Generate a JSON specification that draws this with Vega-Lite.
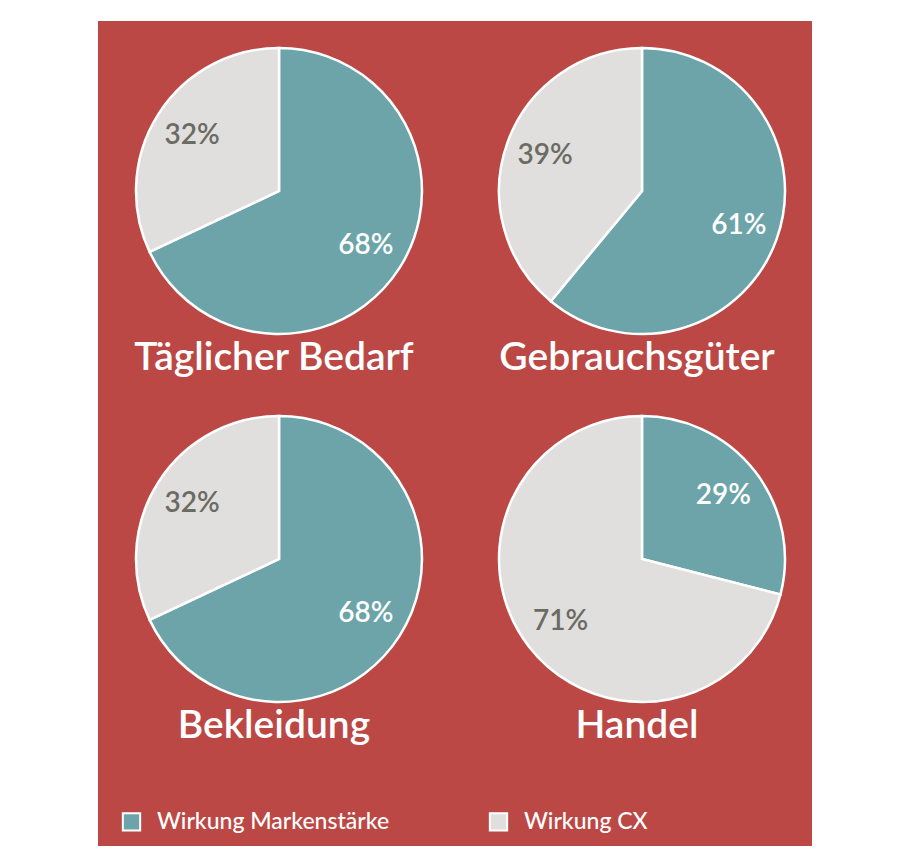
{
  "$schema": "https://vega.github.io/schema/vega-lite/v6.json",
  "width": 923,
  "height": 850,
  "autosize": {"type": "fit", "contains": "padding"},
  "padding": {"left": 98, "top": 21, "right": 111, "bottom": 4},
  "background": "white",
  "config": {
    "view": {"fill": "#BC4845", "stroke": null},
    "font": "Lato"
  },
  "data": {
    "values": [
      {"kategorie": "Täglicher Bedarf", "spalte": 0, "zeile": 0, "serie": "Wirkung Markenstärke", "reihenfolge": 1, "anteil": 0.68},
      {"kategorie": "Täglicher Bedarf", "spalte": 0, "zeile": 0, "serie": "Wirkung CX", "reihenfolge": 2, "anteil": 0.32},
      {"kategorie": "Gebrauchsgüter", "spalte": 1, "zeile": 0, "serie": "Wirkung Markenstärke", "reihenfolge": 1, "anteil": 0.61},
      {"kategorie": "Gebrauchsgüter", "spalte": 1, "zeile": 0, "serie": "Wirkung CX", "reihenfolge": 2, "anteil": 0.39},
      {"kategorie": "Bekleidung", "spalte": 0, "zeile": 1, "serie": "Wirkung Markenstärke", "reihenfolge": 1, "anteil": 0.68},
      {"kategorie": "Bekleidung", "spalte": 0, "zeile": 1, "serie": "Wirkung CX", "reihenfolge": 2, "anteil": 0.32},
      {"kategorie": "Handel", "spalte": 1, "zeile": 1, "serie": "Wirkung Markenstärke", "reihenfolge": 1, "anteil": 0.29},
      {"kategorie": "Handel", "spalte": 1, "zeile": 1, "serie": "Wirkung CX", "reihenfolge": 2, "anteil": 0.71}
    ]
  },
  "transform": [
    {"stack": "anteil", "groupby": ["kategorie"], "sort": [{"field": "reihenfolge"}], "as": ["a0", "a1"]},
    {"calculate": "(datum.a0 + datum.a1) / 2", "as": "mitte"}
  ],
  "encoding": {
    "x": {"field": "spalte", "type": "quantitative", "scale": {"domain": [0, 1], "range": [181, 544]}, "axis": null},
    "y": {"field": "zeile", "type": "quantitative", "scale": {"domain": [0, 1], "range": [170, 538]}, "axis": null}
  },
  "layer": [
    {
      "mark": {"type": "arc", "outerRadius": 143, "stroke": "white", "strokeWidth": 2.5},
      "encoding": {
        "theta": {"field": "a0", "type": "quantitative", "scale": {"domain": [0, 1]}},
        "theta2": {"field": "a1"},
        "color": {
          "field": "serie",
          "type": "nominal",
          "scale": {"domain": ["Wirkung Markenstärke", "Wirkung CX"], "range": ["#6CA4A9", "#E0DFDE"]},
          "legend": {
            "title": null,
            "orient": "none",
            "legendX": 22,
            "legendY": 789,
            "direction": "horizontal",
            "symbolType": "square",
            "symbolSize": 300,
            "symbolStrokeColor": "white",
            "symbolStrokeWidth": 2,
            "symbolOpacity": 1,
            "labelColor": "white",
            "labelFont": "Lato",
            "labelFontSize": 23,
            "labelFontWeight": 500,
            "labelOffset": 14,
            "labelLimit": 400,
            "columnPadding": 95
          }
        }
      }
    },
    {
      "mark": {"type": "text", "radius": 103, "fontSize": 28, "fontWeight": 600, "align": "center", "baseline": "middle"},
      "encoding": {
        "theta": {"field": "mitte", "type": "quantitative", "scale": {"domain": [0, 1]}},
        "text": {"field": "anteil", "type": "quantitative", "format": ".0%"},
        "color": {
          "condition": {"test": "datum.serie === 'Wirkung CX'", "value": "#6B6B63"},
          "value": "white"
        }
      }
    },
    {
      "transform": [{"filter": "datum.serie === 'Wirkung Markenstärke'"}],
      "mark": {"type": "text", "fontSize": 39, "fontWeight": 600, "align": "center", "baseline": "alphabetic", "dy": 179, "dx": -5, "color": "white"},
      "encoding": {
        "text": {"field": "kategorie", "type": "nominal"}
      }
    }
  ]
}
